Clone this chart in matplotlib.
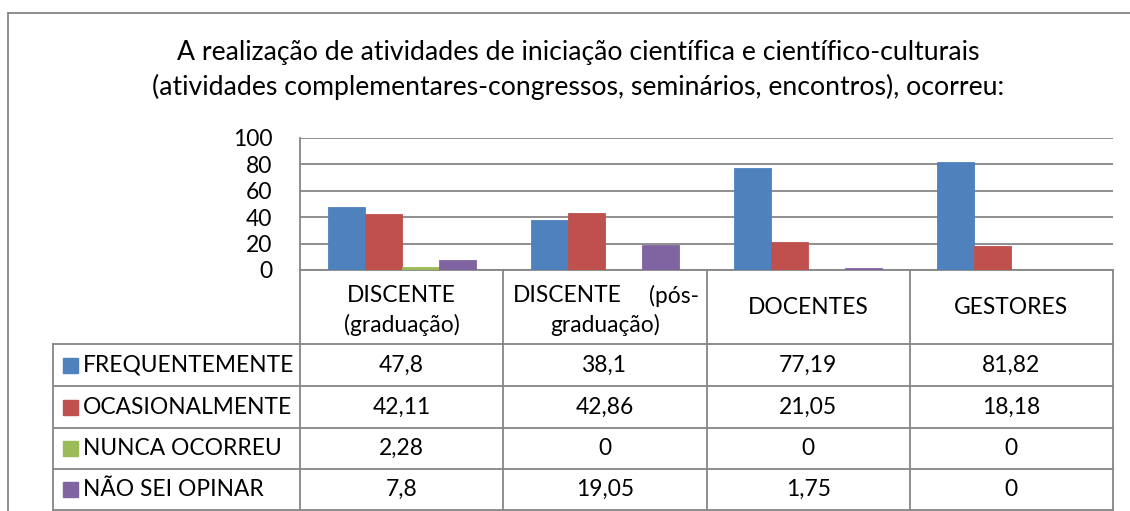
import matplotlib.pyplot as plt
import numpy as np
from matplotlib.lines import Line2D
from matplotlib.patches import Rectangle

# data
title = ("A realização de atividades de iniciação científica e científico-culturais\n"
         "(atividades complementares-congressos, seminários, encontros), ocorreu:")
categories = ["DISCENTE (graduação)", "DISCENTE (pós-graduação)", "DOCENTES", "GESTORES"]
series_names = ["FREQUENTEMENTE", "OCASIONALMENTE", "NUNCA OCORREU", "NÃO SEI OPINAR"]
frequentemente = [47.8, 38.1, 77.19, 81.82]
ocasionalmente = [42.11, 42.86, 21.05, 18.18]
nunca_ocorreu = [2.28, 0, 0, 0]
nao_sei_opinar = [7.8, 19.05, 1.75, 0]
series = [frequentemente, ocasionalmente, nunca_ocorreu, nao_sei_opinar]
colors = ["#4F81BD", "#C0504D", "#9BBB59", "#8064A2"]
yticks = [0, 20, 40, 60, 80, 100]

plt.rcParams['font.family'] = ['Lato', 'DejaVu Sans']

W, H = 1130, 511
fig = plt.figure(figsize=(W / 100, H / 100), dpi=100)
fig.patch.set_facecolor("white")

# pixel overlay for border, table and text
ov = fig.add_axes([0, 0, 1, 1])
ov.set_xlim(0, W)
ov.set_ylim(H, 0)
ov.axis("off")

grid_c = "#868686"

def hline(x0, x1, y):
    ov.add_line(Line2D([x0, x1], [y, y], color=grid_c, lw=1.3))

def vline(x, y0, y1):
    ov.add_line(Line2D([x, x], [y0, y1], color=grid_c, lw=1.3))

# chart border
hline(8, W, 13)
vline(8, 13, H)

ov.text(578, 70, title, ha="center", va="center", fontsize=19.2, linespacing=1.42)

# plot area
px0, px1, py0, py1 = 300, 1113, 138, 270
ax = fig.add_axes([px0 / W, 1 - py1 / H, (px1 - px0) / W, (py1 - py0) / H])
ax.set_facecolor("none")
n = len(categories)
x = np.arange(n)
bw = 37 / 203
for i, vals in enumerate(series):
    ax.bar(x + (i - 1.5) * bw, vals, bw, color=colors[i], edgecolor=colors[i],
           linewidth=0.6, zorder=3)
ax.set_xlim(-0.5, n - 0.5)
ax.set_ylim(0, 100)
ax.set_yticks(yticks)
ax.set_yticklabels([str(t) for t in yticks], fontsize=16.5)
ax.tick_params(axis="y", length=0, pad=20)
ax.set_xticks([])
ax.grid(axis="y", color=grid_c, lw=1.3, zorder=0)
for s in ["top", "right", "bottom"]:
    ax.spines[s].set_visible(False)
ax.spines["left"].set_color(grid_c)
ax.spines["left"].set_linewidth(1.3)

# data table
col_edges = np.linspace(px0, px1, n + 1)
row_edges = [344, 386, 428, 469, 510]
hline(px0, px1, 270)
for y in row_edges:
    hline(53, px1, y)
vline(53, row_edges[0], row_edges[-1])
for cx in col_edges:
    vline(cx, 270, row_edges[-1])

fs = 16.4
c0, c1, c2, c3 = [(col_edges[k] + col_edges[k + 1]) / 2 for k in range(n)]
ov.text(c0, 296, "DISCENTE", ha="center", va="center", fontsize=fs)
ov.text(c0, 325, "(graduação)", ha="center", va="center", fontsize=fs)
ov.text(col_edges[1] + 10, 296, "DISCENTE", ha="left", va="center", fontsize=fs)
ov.text(col_edges[2] - 8, 296, "(pós-", ha="right", va="center", fontsize=fs)
ov.text(c1, 325, "graduação)", ha="center", va="center", fontsize=fs)
ov.text(c2, 308, categories[2], ha="center", va="center", fontsize=fs)
ov.text(c3, 308, categories[3], ha="center", va="center", fontsize=fs)

for r, (name, vals) in enumerate(zip(series_names, series)):
    yc = (row_edges[r] + row_edges[r + 1]) / 2
    ov.add_patch(Rectangle((63, yc - 7), 15, 15, color=colors[r]))
    ov.text(83, yc, name, ha="left", va="center", fontsize=fs)
    for k, v in enumerate(vals):
        s = ("%g" % v).replace(".", ",")
        ov.text((col_edges[k] + col_edges[k + 1]) / 2, yc, s, ha="center",
                va="center", fontsize=fs)

fig.savefig("out.png", dpi=100)
